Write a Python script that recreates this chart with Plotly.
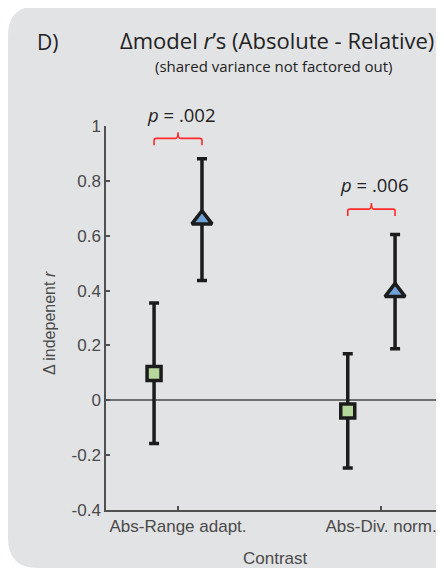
import plotly.graph_objects as go

# ---------------- data ----------------
categories = ["Abs-Range adapt.", "Abs-Div. norm."]
category_pos = [1, 2]

square_x = [0.882, 1.836]
square_val = [0.098, -0.039]
square_hi = [0.355, 0.170]
square_lo = [-0.158, -0.247]

tri_x = [1.118, 2.069]
tri_val = [0.659, 0.394]
tri_hi = [0.881, 0.604]
tri_lo = [0.437, 0.188]

p_labels = ["<i>p</i> = .002", "<i>p</i> = .006"]
bracket_y = [0.955, 0.697]

y_ticks = [-0.4, -0.2, 0, 0.2, 0.4, 0.6, 0.8, 1]
y_ticktext = ["-0.4", "-0.2", "0", "0.2", "0.4", "0.6", "0.8", "1"]
y_range = [-0.4, 1]

# ---------------- layout geometry (pixels) ----------------
# the page body has an 8px margin, so the figure starts at (8, 8)
OFF = 8
W, H = 444 - OFF, 571 - OFF
ML, MR, MT, MB = 106 - OFF, 0, 126 - OFF, 61
PW, PH = W - ML - MR, H - MT - MB


def px(x):
    return (x - OFF - ML) / PW


def py(y):
    return (H - MB - (y - OFF)) / PH


def ypaper(v):
    return (v - y_range[0]) / (y_range[1] - y_range[0])


AX = "#505050"
TXT = "#4a4a4a"
TICKFONT = dict(family="Liberation Sans, Arial, sans-serif", size=17, color=TXT)
TITLEFONT = "Open Sans, sans-serif"
CENTER = dict(xanchor="center", yanchor="middle", showarrow=False)

fig = go.Figure()

fig.add_trace(go.Scatter(
    x=square_x, y=square_val, mode="markers",
    marker=dict(symbol="square", size=14, color="#b6d79c",
                line=dict(color="#1c1c1c", width=3.5)),
    error_y=dict(type="data", symmetric=False,
                 array=[h - v for h, v in zip(square_hi, square_val)],
                 arrayminus=[v - l for l, v in zip(square_lo, square_val)],
                 color="#1c1c1c", thickness=3.5, width=5),
    showlegend=False, cliponaxis=False, hoverinfo="skip"))

fig.add_trace(go.Scatter(
    x=tri_x, y=tri_val, mode="markers",
    marker=dict(symbol="triangle-up", size=17.5, color="#6ea2d8",
                line=dict(color="#1c1c1c", width=3.5)),
    error_y=dict(type="data", symmetric=False,
                 array=[h - v for h, v in zip(tri_hi, tri_val)],
                 arrayminus=[v - l for l, v in zip(tri_lo, tri_val)],
                 color="#1c1c1c", thickness=3.5, width=5),
    showlegend=False, cliponaxis=False, hoverinfo="skip"))

shapes = []
# rounded background panel
x0, x1, y0, y1 = px(8), px(460), py(6), py(568)
rx, ry = 30 / PW, 30 / PH
panel = (f"M{x0+rx},{y0} L{x1-rx},{y0} Q{x1},{y0} {x1},{y0-ry} "
         f"L{x1},{y1+ry} Q{x1},{y1} {x1-rx},{y1} L{x0+rx},{y1} "
         f"Q{x0},{y1} {x0},{y1+ry} L{x0},{y0-ry} Q{x0},{y0} {x0+rx},{y0} Z")
shapes.append(dict(type="path", xref="paper", yref="paper", path=panel,
                   fillcolor="#e2e3e5", line=dict(width=0), layer="below"))

# significance brackets
annotations = []
for i in range(2):
    xa, xb = square_x[i], tri_x[i]
    xm = (xa + xb) / 2
    yb = bracket_y[i]
    ye = yb - 0.025
    yt = yb + 0.022
    c = 0.012
    path = (f"M{xa},{ye} L{xa},{yb-0.006} Q{xa},{yb} {xa+c},{yb} L{xm-c},{yb} "
            f"Q{xm},{yb} {xm},{yt} Q{xm},{yb} {xm+c},{yb} L{xb-c},{yb} "
            f"Q{xb},{yb} {xb},{yb-0.006} L{xb},{ye}")
    shapes.append(dict(type="path", xref="x", yref="y", path=path,
                       line=dict(color="#ff2a2a", width=1.6)))
    annotations.append(dict(x=xm + 0.015, y=ypaper(yb + 0.088), xref="x", yref="paper",
                            text=p_labels[i], **CENTER,
                            font=dict(family=TITLEFONT, size=18.5, color="#222")))

# titles
annotations += [
    dict(x=px(47), y=py(42), xref="paper", yref="paper", text="D)", **CENTER,
         font=dict(family=TITLEFONT, size=21, color="#222")),
    dict(x=px(277), y=py(40), xref="paper", yref="paper",
         text="Δmodel <i>r</i>’s (Absolute - Relative)", **CENTER,
         font=dict(family=TITLEFONT, size=22, color="#222")),
    dict(x=px(274), y=py(66), xref="paper", yref="paper",
         text="(shared variance not factored out)", **CENTER,
         font=dict(family=TITLEFONT, size=15, color="#222")),
    dict(x=px(49), y=py(323), xref="paper", yref="paper",
         text="Δ indepenent <i>r</i>", textangle=-90, **CENTER,
         font=dict(family="Liberation Sans Narrow, Arial Narrow, sans-serif", size=16, color=TXT)),
    dict(x=px(275), y=py(558), xref="paper", yref="paper", text="Contrast",
         **CENTER, font=TICKFONT),
]

fig.update_layout(
    width=W, height=H,
    margin=dict(l=ML, r=MR, t=MT, b=MB, autoexpand=False),
    paper_bgcolor="white", plot_bgcolor="rgba(0,0,0,0)",
    shapes=shapes, annotations=annotations,
    xaxis=dict(range=[0.6453, 2.310], tickvals=category_pos, ticktext=categories,
               showline=True, linecolor=AX, linewidth=1.5, ticks="inside",
               ticklen=4, tickwidth=1.5, tickcolor=AX, showgrid=False,
               zeroline=False, tickfont=TICKFONT, fixedrange=True),
    yaxis=dict(range=y_range, tickvals=y_ticks, ticktext=y_ticktext,
               showline=True, linecolor=AX, linewidth=1.5, ticks="inside",
               ticklen=4, tickwidth=1.5, tickcolor=AX, showgrid=False,
               zeroline=True, zerolinecolor="#707070", zerolinewidth=1.5,
               tickfont=TICKFONT, fixedrange=True),
)

fig.write_html("out.html", config={"displayModeBar": False})
